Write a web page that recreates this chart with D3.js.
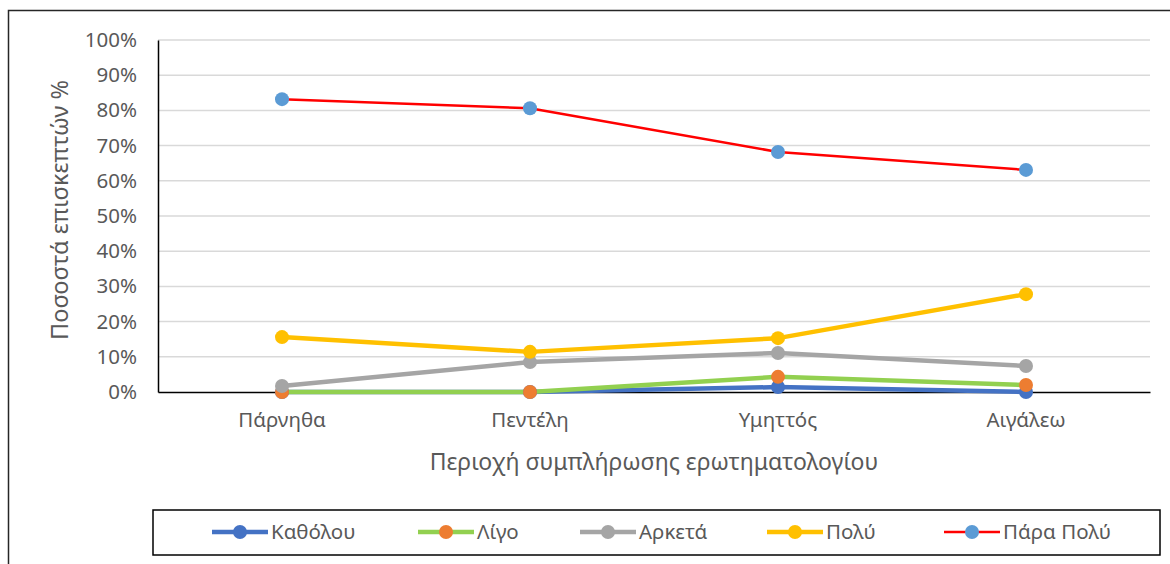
<!DOCTYPE html>
<html lang="el">
<head>
<meta charset="UTF-8">
<title>Ποσοστά επισκεπτών ανά περιοχή</title>
<script src="https://d3js.org/d3.v7.min.js"></script>
<style>
  body { margin: 0; background: #fff; }
  text { font-family: "Noto Sans", "DejaVu Sans", sans-serif; fill: #595959; }
</style>
</head>
<body>
<div id="chart"></div>
<script>
// Δεδομένα
const areas = ["Πάρνηθα", "Πεντέλη", "Υμηττός", "Αιγάλεω"];
const seriesNames = ["Καθόλου", "Λίγο", "Αρκετά", "Πολύ", "Πάρα Πολύ"];
const katholou = [0, 0, 1.4, 0];
const ligo = [0, 0, 4.3, 2.0];
const arketa = [1.7, 8.5, 11.1, 7.4];
const poly = [15.6, 11.4, 15.3, 27.8];
const paraPoly = [83.2, 80.6, 68.2, 63.1];
const yTicks = [0, 10, 20, 30, 40, 50, 60, 70, 80, 90, 100];

const lineColors = ["#4472C4", "#92D050", "#A5A5A5", "#FFC000", "#FF0000"];
const markerColors = ["#4472C4", "#ED7D31", "#A5A5A5", "#FFC000", "#5B9BD5"];
const lineWidths = [4.5, 4.5, 4.5, 4.5, 2.5];

const series = seriesNames.map((name, i) => ({
  name,
  values: [katholou, ligo, arketa, poly, paraPoly][i],
  line: lineColors[i],
  marker: markerColors[i],
  width: lineWidths[i]
}));

const width = 1170, height = 564;
const margin = { left: 158, right: 20, top: 40, bottom: 172 };

const svg = d3.select("#chart").append("svg")
  .attr("width", width).attr("height", height);

// περίγραμμα γραφήματος
svg.append("rect")
  .attr("x", 8.5).attr("y", 10.5)
  .attr("width", 1180).attr("height", 600)
  .attr("fill", "none").attr("stroke", "#262626").attr("stroke-width", 1.5);

const x = d3.scaleBand().domain(areas)
  .range([margin.left, width - margin.right]);
const y = d3.scaleLinear().domain([0, 100])
  .range([height - margin.bottom, margin.top]);
const cx = d => x(d) + x.bandwidth() / 2;

// γραμμές πλέγματος
svg.append("g")
  .selectAll("line").data(yTicks.filter(t => t > 0)).join("line")
  .attr("x1", margin.left).attr("x2", width - margin.right)
  .attr("y1", d => y(d)).attr("y2", d => y(d))
  .attr("stroke", "#d9d9d9").attr("stroke-width", 1.5);

// άξονας Y
const yAxis = svg.append("g")
  .attr("transform", `translate(${margin.left},0)`)
  .call(d3.axisLeft(y).tickValues(yTicks).tickSize(0).tickPadding(21).tickFormat(d => d + "%"));
yAxis.select(".domain").attr("stroke", "#000").attr("stroke-width", 1.5);
yAxis.selectAll("text").style("font-size", "20.5px").attr("fill", "#595959");

// άξονας X
const xAxis = svg.append("g")
  .attr("transform", `translate(0,${y(0)})`)
  .call(d3.axisBottom(x).tickSize(0).tickPadding(20));
xAxis.select(".domain").attr("stroke", "#000").attr("stroke-width", 1.5);
xAxis.selectAll("text").style("font-size", "20.5px").attr("fill", "#595959");

// τίτλοι αξόνων
svg.append("text")
  .attr("x", 654)
  .attr("y", 470)
  .attr("text-anchor", "middle")
  .style("font-size", "23px")
  .text("Περιοχή συμπλήρωσης ερωτηματολογίου");

svg.append("text")
  .attr("transform", `translate(68,210) rotate(-90)`)
  .attr("text-anchor", "middle")
  .style("font-size", "23.5px")
  .text("Ποσοστά επισκεπτών %");

// γραμμές σειρών
const line = d3.line().x((d, i) => cx(areas[i])).y(d => y(d));
series.forEach(s => {
  svg.append("path")
    .attr("d", line(s.values))
    .attr("fill", "none")
    .attr("stroke", s.line)
    .attr("stroke-width", s.width)
    .attr("stroke-linejoin", "round");
});
series.forEach(s => {
  svg.append("g").selectAll("circle").data(s.values).join("circle")
    .attr("cx", (d, i) => cx(areas[i]))
    .attr("cy", d => y(d))
    .attr("r", 7)
    .attr("fill", s.marker);
});

// υπόμνημα
svg.append("rect")
  .attr("x", 153).attr("y", 510)
  .attr("width", 1007).attr("height", 45)
  .attr("fill", "#fff").attr("stroke", "#000").attr("stroke-width", 1.5);

const legendX = [212, 418, 580, 767, 944];
const legend = svg.append("g").selectAll("g").data(series).join("g")
  .attr("transform", (d, i) => `translate(${legendX[i]},532)`);
legend.append("line")
  .attr("x1", 0).attr("x2", 56)
  .attr("stroke", d => d.line).attr("stroke-width", d => d.width);
legend.append("circle")
  .attr("cx", 28).attr("r", 7).attr("fill", d => d.marker);
legend.append("text")
  .attr("x", 59).attr("dy", "0.35em")
  .style("font-size", "20.5px")
  .text(d => d.name);
</script>
</body>
</html>
